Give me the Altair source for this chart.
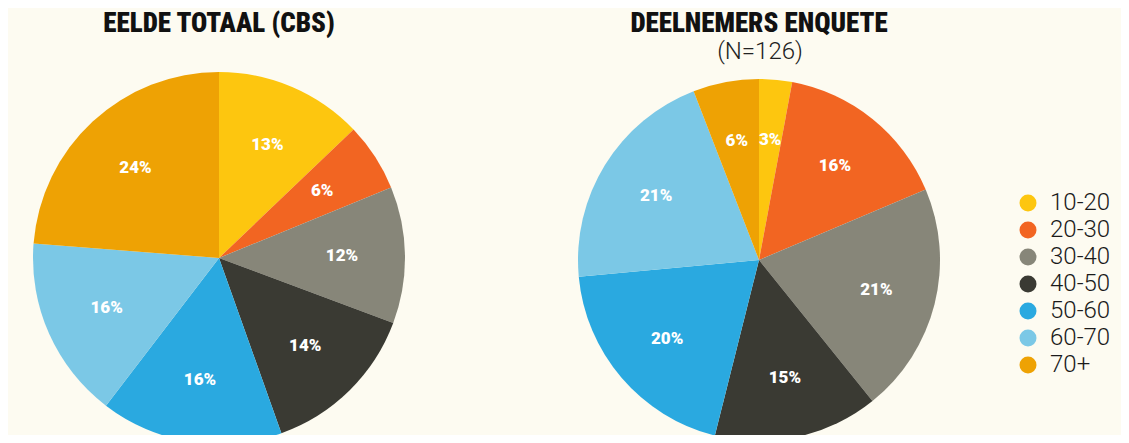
import altair as alt
import pandas as pd

groups = ["10-20", "20-30", "30-40", "40-50", "50-60", "60-70", "70+"]
colors = ["#FDC60F", "#F26522", "#878679", "#3A3A33", "#2AA9E0", "#7BC8E6", "#EEA204"]
eelde = [13, 6, 12, 14, 16, 16, 24]
enquete = [3, 16, 21, 15, 20, 21, 6]
title_left = ["EELDE TOTAAL (CBS)"]
title_right = ["DEELNEMERS ENQUETE"]
subtitle_right = ["(N=126)"]

BG = "#FDFBF1"
TITLE_FONT = "Roboto Condensed, Liberation Sans Narrow, Roboto"


def pie_df(vals):
    return pd.DataFrame({
        "group": groups,
        "value": vals,
        "idx": list(range(len(groups))),
        "label": [f"{v}%" for v in vals],
    })


color_scale = alt.Scale(domain=groups, range=colors)


def pie_layers(df, cx, cy, r, rl, legend):
    base = alt.Chart(df)
    arc = base.mark_arc(radius=r, stroke=None).encode(
        theta=alt.Theta("value:Q", stack=True),
        color=alt.Color("group:N", scale=color_scale, sort=groups,
                        legend=alt.Legend(title=None) if legend else None),
        order=alt.Order("idx:Q"),
        x=alt.value(cx), y=alt.value(cy),
    )
    txt = base.mark_text(radius=rl, font="Roboto", fontWeight=900, fontSize=17,
                         color="white", align="center", baseline="middle").encode(
        theta=alt.Theta("value:Q", stack=True),
        order=alt.Order("idx:Q"),
        text="label:N",
        x=alt.value(cx), y=alt.value(cy),
    )
    return [arc, txt]


left = pie_layers(pie_df(eelde), 211, 250, 186, 123, True)
right = pie_layers(pie_df(enquete), 751, 252, 181, 121, False)

t1 = alt.Chart(pd.DataFrame({"t": title_left})).mark_text(
    font=TITLE_FONT, fontWeight=900, fontSize=27, color="#111111",
    align="center", baseline="middle").encode(text="t:N", x=alt.value(211), y=alt.value(16))
t2 = alt.Chart(pd.DataFrame({"t": title_right})).mark_text(
    font=TITLE_FONT, fontWeight=900, fontSize=27, color="#111111",
    align="center", baseline="middle").encode(text="t:N", x=alt.value(751), y=alt.value(16))
t3 = alt.Chart(pd.DataFrame({"t": subtitle_right})).mark_text(
    font="Roboto", fontWeight=300, fontSize=24, color="#222222",
    align="center", baseline="middle").encode(text="t:N", x=alt.value(752), y=alt.value(44))

chart = alt.layer(*left, *right, t1, t2, t3).resolve_scale(
    theta="independent"
).properties(
    width=1113, height=427, padding=0, autosize=alt.AutoSizeParams(type="none")
).configure(
    background=BG
).configure_view(
    stroke=None
).configure_legend(
    orient="none", legendX=1008, legendY=183, symbolType="circle", symbolSize=289,
    symbolStrokeWidth=0, labelFont="Roboto", labelFontWeight=300, labelFontSize=24,
    labelColor="#1a1a1a", labelOffset=10, rowPadding=3, padding=0
)

chart.save("out.html", embed_options={"renderer": "svg", "actions": False})
